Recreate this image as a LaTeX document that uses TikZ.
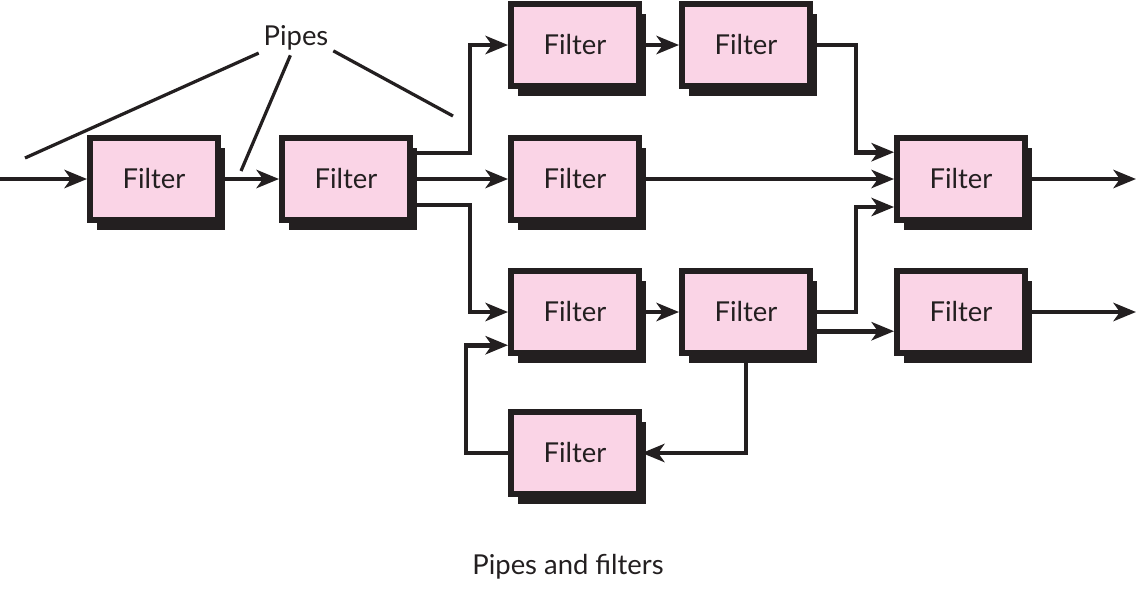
\documentclass[tikz,border=0pt]{standalone}
\usepackage{fontspec}
\setmainfont{Lato}
\usetikzlibrary{arrows.meta,shadows}

\definecolor{filterpink}{HTML}{FAD4E6}
\definecolor{inkblack}{HTML}{231F20}

\tikzset{
  filterbox/.style={draw=inkblack, line width=4.2pt, fill=filterpink,
    minimum width=3.2cm, minimum height=2.05cm, inner sep=0pt,
    general shadow={fill=inkblack, shadow xshift=0.17cm, shadow yshift=-0.24cm}},
  pipe/.style={draw=inkblack, line width=3.4pt,
    -{Stealth[length=16pt,width=13pt,inset=4.5pt]}},
  pointer/.style={draw=inkblack, line width=2.3pt},
  every node/.append style={font=\fontsize{19.5}{22}\selectfont, text=inkblack},
}

\begin{document}
\begin{tikzpicture}[x=0.025cm, y=-0.025cm]
  \useasboundingbox (0,0) rectangle (1140,601);

  % the filters
  \node[filterbox] (f1) at (154,179) {Filter};
  \node[filterbox] (f2) at (346,179) {Filter};
  \node[filterbox] (f3) at (575,45) {Filter};
  \node[filterbox] (f4) at (746,45) {Filter};
  \node[filterbox] (f5) at (575,179) {Filter};
  \node[filterbox] (f6) at (961,179) {Filter};
  \node[filterbox] (f7) at (575,312) {Filter};
  \node[filterbox] (f8) at (746,312) {Filter};
  \node[filterbox] (f9) at (961,312) {Filter};
  \node[filterbox] (f10) at (575,453) {Filter};

  \coordinate (in) at (0,179);
  \coordinate (out1) at (1136,179);
  \coordinate (out2) at (1136,312);

  % the pipes
  \draw[pipe] (in) -- (f1);
  \draw[pipe] (f1) -- (f2);
  \draw[pipe] ([yshift=0.65cm]f2.east) -- ++(57,0) |- (f3);
  \draw[pipe] (f2) -- (f5);
  \draw[pipe] ([yshift=-0.65cm]f2.east) -- ++(57,0) |- (f7);
  \draw[pipe] (f3) -- (f4);
  \draw[pipe] (f4.east) -- ++(43,0) |- ([yshift=0.67cm]f6.west);
  \draw[pipe] (f5) -- (f6);
  \draw[pipe] (f8.east) -- ++(43,0) |- ([yshift=-0.7cm]f6.west);
  \draw[pipe] (f7) -- (f8);
  \draw[pipe] ([yshift=-0.48cm]f8.east) -- ([yshift=-0.48cm]f9.west);
  \draw[pipe] (f8.south) |- (f10);
  \draw[pipe] (f10.west) -- ++(-42,0) |- ([yshift=-0.83cm]f7.west);
  \draw[pipe] (f6) -- (out1);
  \draw[pipe] (f9) -- (out2);

  % label
  \node (pipes) at (296,38) {Pipes};
  \coordinate (p1) at (25,158);
  \coordinate (p2) at (241,171);
  \coordinate (p3) at (453,116);
  \draw[pointer] (pipes.202) -- (p1);
  \draw[pointer] (pipes.252) -- (p2);
  \draw[pointer] (pipes.341) -- (p3);

  \node (caption) at (568,567) {Pipes and filters};
\end{tikzpicture}
\end{document}
